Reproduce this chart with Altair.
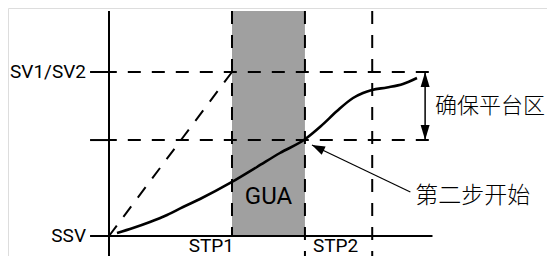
import math
import altair as alt
import pandas as pd

# ---------------- data (abstract units: time on x, value on y) ----------------
level_values = [0.0, 58.5, 100.0]            # SSV, plateau-guarantee start, SV1/SV2
level_labels = ["SSV", "", "SV1/SV2"]
step_values = [10.0, 15.93, 21.4]            # STP1, STP2, next step boundary
step_labels = ["STP1", "STP2"]
curve_t = [0.65, 1.95, 3.33, 4.72, 6.02, 7.40, 10.0, 12.03, 13.90, 15.93,
           17.24, 18.54, 19.84, 20.65, 21.38, 22.60, 23.90, 25.04]
curve_v = [1.83, 4.88, 8.54, 12.80, 17.68, 22.56, 32.93, 42.07, 50.61, 59.0,
           67.07, 76.22, 84.15, 87.20, 89.02, 90.55, 92.68, 96.34]
ramp_t = [10.0, 0.0]
ramp_v = [100.0, 0.0]
axis_t_end = 26.3
guide_t_end = 26.0
axis_v_top = 137.2
axis_v_bottom = -12.8
tick_t_start = -1.54
band_t = [10.0, 15.93]
band_label = "GUA"
band_label_v = 23.5
span_t = 25.7
span_label = "确保平台区"
note_label = "第二步开始"
note_from = [24.5, 26.8]
note_to = [16.5, 55.5]

# ---------------- layout ----------------
W, H = 539, 248
KX, KY = 12.3, 1.64          # pixels per unit
X0, Y0 = 101, 228            # origin inside plot area
xs = alt.Scale(domain=[-X0 / KX, (W - X0) / KX], nice=False, zero=False)
ys = alt.Scale(domain=[-(H - Y0) / KY, Y0 / KY], nice=False, zero=False)

LATIN = "Roboto"
CJK = "Noto Sans CJK SC"
GRAY = "#a0a0a0"
DASH = [13, 11]


def X(f):
    return alt.X(f, type="quantitative", scale=xs, axis=None)


def Y(f):
    return alt.Y(f, type="quantitative", scale=ys, axis=None)


layers = []

# gray GUA band
band_df = pd.DataFrame({"t": [band_t[0]], "t2": [band_t[1]],
                        "v": [level_values[0]], "v2": [axis_v_top]})
layers.append(alt.Chart(band_df).mark_rect(color=GRAY).encode(
    x=X("t"), x2="t2", y=Y("v"), y2="v2"))

# dashed vertical step lines (drawn top to bottom)
vert_df = pd.DataFrame({"t": step_values,
                        "v": [axis_v_top] * 3,
                        "v2": [level_values[0], axis_v_bottom, axis_v_bottom]})
layers.append(alt.Chart(vert_df).mark_rule(color="black", strokeWidth=2,
                                           strokeDash=DASH).encode(
    x=X("t"), y=Y("v"), y2="v2"))

# dashed horizontal guides (drawn right to left)
hor_df = pd.DataFrame({"t": [guide_t_end] * 2, "t2": [0.0] * 2,
                       "v": level_values[1:]})
layers.append(alt.Chart(hor_df).mark_rule(color="black", strokeWidth=2,
                                          strokeDash=DASH).encode(
    x=X("t"), x2="t2", y=Y("v")))

# dashed ideal ramp
ramp_df = pd.DataFrame({"t": [ramp_t[0]], "t2": [ramp_t[1]],
                        "v": [ramp_v[0]], "v2": [ramp_v[1]]})
layers.append(alt.Chart(ramp_df).mark_rule(color="black", strokeWidth=2,
                                           strokeDash=DASH).encode(
    x=X("t"), x2="t2", y=Y("v"), y2="v2"))

# solid axes and ticks
yaxis_df = pd.DataFrame({"t": [0.0], "v": [axis_v_top], "v2": [axis_v_bottom]})
layers.append(alt.Chart(yaxis_df).mark_rule(color="black", strokeWidth=2).encode(
    x=X("t"), y=Y("v"), y2="v2"))
xaxis_df = pd.DataFrame({"t": [tick_t_start], "t2": [axis_t_end], "v": [level_values[0]]})
layers.append(alt.Chart(xaxis_df).mark_rule(color="black", strokeWidth=2).encode(
    x=X("t"), x2="t2", y=Y("v")))
tick_df = pd.DataFrame({"t": [tick_t_start] * 2, "t2": [0.0] * 2, "v": level_values[1:]})
layers.append(alt.Chart(tick_df).mark_rule(color="black", strokeWidth=2).encode(
    x=X("t"), x2="t2", y=Y("v")))

# actual response curve
curve_df = pd.DataFrame({"t": curve_t, "v": curve_v})
layers.append(alt.Chart(curve_df).mark_line(color="black", strokeWidth=2.6,
                                            interpolate="monotone").encode(
    x=X("t"), y=Y("v")))

# y labels
ylab_df = pd.DataFrame({"t": [0.0] * 3, "v": level_values, "label": level_labels})
layers.append(alt.Chart(ylab_df).mark_text(align="right", baseline="middle", dx=-23,
                                           font=LATIN, fontSize=19, color="black").encode(
    x=X("t"), y=Y("v"), text="label:N"))

# step labels
s1_df = pd.DataFrame({"t": [step_values[0]], "v": [level_values[0]], "label": [step_labels[0]]})
layers.append(alt.Chart(s1_df).mark_text(align="right", baseline="alphabetic", dx=2, dy=16,
                                         font=LATIN, fontSize=19, color="black").encode(
    x=X("t"), y=Y("v"), text="label:N"))
s2_df = pd.DataFrame({"t": [(step_values[1] + step_values[2]) / 2], "v": [level_values[0]],
                      "label": [step_labels[1]]})
layers.append(alt.Chart(s2_df).mark_text(align="center", baseline="alphabetic", dx=-3, dy=16,
                                         font=LATIN, fontSize=19, color="black").encode(
    x=X("t"), y=Y("v"), text="label:N"))

# GUA label
gua_df = pd.DataFrame({"t": [sum(band_t) / 2], "v": [band_label_v], "label": [band_label]})
layers.append(alt.Chart(gua_df).mark_text(align="center", baseline="middle",
                                          font=LATIN, fontSize=24, color="black").encode(
    x=X("t"), y=Y("v"), text="label:N"))

# double arrow for the guarantee zone
span_df = pd.DataFrame({"t": [span_t], "v": [level_values[2]], "v2": [level_values[1]]})
layers.append(alt.Chart(span_df).mark_rule(color="black", strokeWidth=1.5).encode(
    x=X("t"), y=Y("v"), y2="v2"))
head_up = pd.DataFrame({"t": [span_t], "v": [level_values[2]]})
layers.append(alt.Chart(head_up).mark_point(
    shape="M0,0L0.6,2L-0.6,2Z", size=225, filled=True, color="black", opacity=1,
    strokeWidth=0).encode(x=X("t"), y=Y("v")))
head_dn = pd.DataFrame({"t": [span_t], "v": [level_values[1]]})
layers.append(alt.Chart(head_dn).mark_point(
    shape="M0,0L0.6,-2L-0.6,-2Z", size=225, filled=True, color="black", opacity=1,
    strokeWidth=0).encode(x=X("t"), y=Y("v")))
span_lab = pd.DataFrame({"t": [span_t], "v": [(level_values[1] + level_values[2]) / 2],
                         "label": [span_label]})
layers.append(alt.Chart(span_lab).mark_text(align="left", baseline="middle", dx=10,
                                            font=CJK, fontSize=22, fontWeight=300,
                                            color="black").encode(
    x=X("t"), y=Y("v"), text="label:N"))

# pointer arrow to "step two start"
note_df = pd.DataFrame({"t": [note_from[0]], "t2": [note_to[0]],
                        "v": [note_from[1]], "v2": [note_to[1]]})
layers.append(alt.Chart(note_df).mark_rule(color="black", strokeWidth=1.2).encode(
    x=X("t"), x2="t2", y=Y("v"), y2="v2"))
dxp = (note_to[0] - note_from[0]) * KX
dyp = -(note_to[1] - note_from[1]) * KY
ang = (math.degrees(math.atan2(dxp, -dyp)) + 360) % 360
note_head = pd.DataFrame({"t": [note_to[0]], "v": [note_to[1]]})
layers.append(alt.Chart(note_head).mark_point(
    shape="M0,0L0.7,2L-0.7,2Z", size=169, filled=True, color="black", opacity=1,
    strokeWidth=0, angle=ang).encode(x=X("t"), y=Y("v")))
note_lab = pd.DataFrame({"t": [note_from[0]], "v": [note_from[1]], "label": [note_label]})
layers.append(alt.Chart(note_lab).mark_text(align="left", baseline="middle", dx=5, dy=4,
                                            font=CJK, fontSize=23, fontWeight=300,
                                            color="black").encode(
    x=X("t"), y=Y("v"), text="label:N"))

chart = alt.layer(*layers).properties(
    width=W, height=H,
    autosize=alt.AutoSizeParams(type="none"),
    padding=0,
).configure_view(stroke=None).configure(background="white")

chart.save("out.html", embed_options={"renderer": "svg", "actions": False})
